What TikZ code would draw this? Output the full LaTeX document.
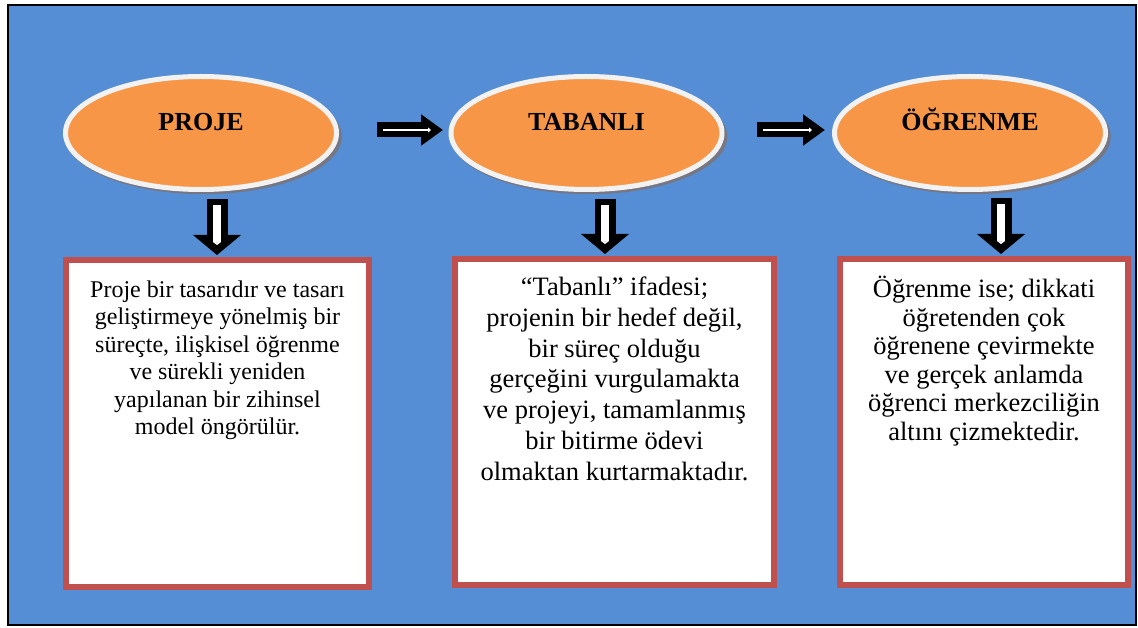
\documentclass[tikz,border=0pt]{standalone}
\usepackage{fontspec}
\setmainfont{Liberation Serif}
\usetikzlibrary{arrows.meta,shapes.geometric,shadows}
\definecolor{bgblue}{RGB}{85,142,213}
\definecolor{ovalorange}{RGB}{247,150,70}
\definecolor{ringwhite}{RGB}{242,242,242}
\definecolor{boxred}{RGB}{192,80,77}
\definecolor{shadowgray}{RGB}{118,118,132}
\tikzset{
  oval/.style={ellipse, minimum width=271pt, minimum height=113pt, inner sep=0pt,
    fill=ovalorange, draw=ringwhite, line width=5pt, text height=18pt, text depth=22pt,
    font=\fontsize{26}{30}\selectfont\bfseries,
    drop shadow={shadow xshift=2.5pt, shadow yshift=-3.5pt, shadow scale=1.02, fill=shadowgray, opacity=1}},
  infobox/.style={rectangle, draw=boxred, fill=white, line width=6pt, inner sep=0pt},
  infotext/.style={anchor=north, align=center, inner sep=0pt},
  rightarrow/.style={draw=black, line width=15pt, -{Triangle[length=22pt,width=30pt]}},
  rightline/.style={draw=white, line width=2.5pt, -{Triangle[length=3pt,width=5pt]}},
  downarrow/.style={draw=black, line width=21pt, -{Triangle[length=20pt,width=47pt]}},
  downline/.style={draw=white, line width=8pt, -{Triangle[length=3pt,width=8pt]}}
}
\begin{document}
\begin{tikzpicture}[x=1pt,y=-1pt]
\useasboundingbox (0,0) rectangle (1138,628);
\fill[white] (0,0) rectangle (1138,628);
\draw[line width=1.8pt, fill=bgblue] (8.2,4.8) rectangle (1135.6,625);
\node[oval] (e1) at (201,133) {PROJE};
\node[oval] (e2) at (586.5,133) {TABANLI};
\node[oval] (e3) at (970,133) {ÖĞRENME};
\node[infobox, minimum width=303pt, minimum height=327pt] (b1) at (217.5,423.5) {};
\node[infobox, minimum width=319pt, minimum height=326pt] (b2) at (614.5,422) {};
\node[infobox, minimum width=288pt, minimum height=326pt] (b3) at (984,422) {};
\node[infotext, font=\fontsize{24}{27.5}\selectfont] (t1) at ([yshift=-23.6pt]b1.north)
  {Proje bir tasarıdır ve tasarı\\geliştirmeye yönelmiş bir\\süreçte, ilişkisel öğrenme\\ve sürekli yeniden\\yapılanan bir zihinsel\\model öngörülür.};
\node[infotext, font=\fontsize{26.5}{30.8}\selectfont] (t2) at ([yshift=-20.7pt]b2.north)
  {“Tabanlı” ifadesi;\\projenin bir hedef değil,\\bir süreç olduğu\\gerçeğini vurgulamakta\\ve projeyi, tamamlanmış\\bir bitirme ödevi\\olmaktan kurtarmaktadır.};
\node[infotext, font=\fontsize{26.5}{28.5}\selectfont] (t3) at ([yshift=-20pt]b3.north)
  {Öğrenme ise; dikkati\\öğretenden çok\\öğrenene çevirmekte\\ve gerçek anlamda\\öğrenci merkezciliğin\\altını çizmektedir.};
\draw[rightarrow, shorten <=38pt, shorten >=5.5pt] ([yshift=3pt]e1.east) -- ([yshift=3pt]e2.west);
\draw[rightline, shorten <=44pt, shorten >=17.5pt] ([yshift=3pt]e1.east) -- ([yshift=3pt]e2.west);
\draw[rightarrow, shorten <=32.5pt, shorten >=7pt] ([yshift=3pt]e2.east) -- ([yshift=3pt]e3.west);
\draw[rightline, shorten <=38.5pt, shorten >=20pt] ([yshift=3pt]e2.east) -- ([yshift=3pt]e3.west);
\coordinate (d1) at (217,199);
\coordinate (d2) at (605,199);
\coordinate (d3) at (1001,198);
\foreach \i in {1,2,3}{
  \draw[downarrow, shorten >=2pt] (d\i) -- (d\i |- b\i.north);
  \draw[downline, shorten <=6pt, shorten >=12pt] (d\i) -- (d\i |- b\i.north);
}
\end{tikzpicture}
\end{document}
